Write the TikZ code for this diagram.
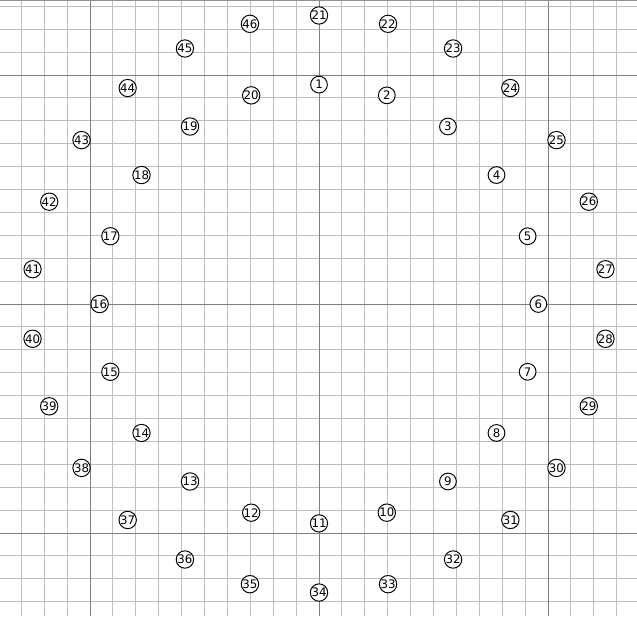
\documentclass[tikz,border=0pt]{standalone}
\usepackage{fontspec}
\setmainfont{DejaVu Sans}
\begin{document}
\begin{tikzpicture}[x=0.5cm,y=0.5cm,
  minorline/.style={draw={rgb,255:red,190;green,190;blue,190}, line width=0.6pt},
  majorline/.style={draw={rgb,255:red,128;green,128;blue,128}, line width=0.6pt},
  topline/.style={draw={rgb,255:red,140;green,146;blue,156}, line width=1pt},
  num/.style={circle, draw=black, fill=white, line width=0.6pt, inner sep=0pt,
    minimum size=10.4pt, font=\fontsize{7.3}{7.3}\selectfont, text=black}]
\useasboundingbox (-13.93,-13.625) rectangle (13.886,13.275);
\foreach \i in {-13,...,13} {
  \draw[minorline] (\i,-13.625) -- (\i,13.275);
  \draw[minorline] (-13.93,\i) -- (13.886,\i);
}
\foreach \i in {-10,0,10} {
  \draw[majorline] (\i,-13.625) -- (\i,13.275);
  \draw[majorline] (-13.93,\i) -- (13.886,\i);
}
\draw[topline] (-13.93,13.245) -- (13.886,13.245);
\foreach \k in {1,...,20}
  \node[num] (n\k) at ({90-(\k-1)*18}:9.58) {\k};
\foreach \k in {21,...,46}
  \node[num] (n\k) at ({90-(\k-21)*360/26}:12.6) {\k};
\end{tikzpicture}
\end{document}
